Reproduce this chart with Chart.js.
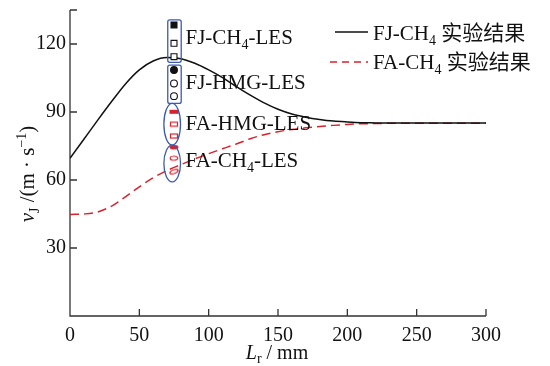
<!DOCTYPE html>
<html>
<head>
<meta charset="utf-8">
<script src="https://cdn.jsdelivr.net/npm/chart.js@4"></script>
<style>
  body { margin: 0; background: #fff; }
</style>
</head>
<body>
<canvas id="myChart" width="550" height="366"></canvas>
<script>
// Lr (mm) sampled every 10 mm
const lr = [0, 10, 20, 30, 40, 50, 60, 70, 80, 90, 100, 110, 120, 130, 140, 150,
            160, 170, 180, 190, 200, 210, 220, 230, 240, 250, 260, 270, 280, 290, 300];
// FJ-CH4 实验结果 (black solid)
const fjExp = [69.6, 78.0, 86.4, 94.6, 102.4, 108.6, 112.5, 114.0, 113.5, 111.5, 108.6,
               105.2, 101.2, 97.4, 94.0, 91.2, 89.1, 87.7, 86.7, 86.0, 85.6, 85.3,
               85.2, 85.1, 85.1, 85.1, 85.1, 85.1, 85.1, 85.1, 85.1];
// FA-CH4 实验结果 (red dashed)
const faExp = [44.8, 45.0, 45.9, 48.5, 52.6, 57.0, 61.0, 64.2, 66.8, 69.3, 71.6,
               73.8, 75.9, 78.2, 80.0, 81.3, 82.3, 83.0, 83.6, 84.1, 84.5, 84.8,
               84.9, 85.0, 85.0, 85.0, 85.0, 85.0, 85.0, 85.0, 85.0];

// LES results at Lr = 75 mm
const lesX = 75;
const fjCh4Les = [128.4, 120.3, 114.4];
const fjHmgLes = [108.5, 102.6, 97.0];
const faHmgLes = [90.1, 84.6, 79.4];
const faCh4Les = [74.5, 69.6, 63.7];

const lesNames = ['FJ-CH4-LES', 'FJ-HMG-LES', 'FA-HMG-LES', 'FA-CH4-LES'];
const lesNameY = [123.1, 103.4, 85.0, 68.8];
const lesNameX = 83.3;
// group outlines [xMin, xMax, yMin, yMax]
const rectGroups = [[70.5, 80.2, 111.9, 130.6], [70.5, 80.2, 93.8, 110.7]];
const ovalGroups = [[67.7, 79.7, 75.4, 93.8], [67.7, 79.7, 59.2, 75.4]];

const seriesNames = ['FJ-CH4 实验结果', 'FA-CH4 实验结果'];
const xTicks = [0, 50, 100, 150, 200, 250, 300];
const yTicks = [30, 60, 90, 120];
const yTop = 135;

const SERIF = '"Liberation Serif", "Noto Sans CJK SC", serif';
const INK = '#111';
const RED = '#d8222b';
const BLUE = '#3b5bb0';

// small canvases used as point styles
function shape(draw) {
  const c = document.createElement('canvas');
  c.width = 12; c.height = 8;
  const g = c.getContext('2d');
  g.translate(6, 4);
  draw(g);
  return c;
}
const redBarFull = shape(g => { g.fillStyle = RED; g.fillRect(-4.5, -2, 9, 4); });
const redBarOpen = shape(g => { g.fillStyle = '#fff'; g.strokeStyle = RED; g.lineWidth = 1.2;
  g.fillRect(-3.5, -2, 7, 4); g.strokeRect(-3.5, -2, 7, 4); });
const redOvalFull = shape(g => { g.fillStyle = RED; g.beginPath(); g.ellipse(0, 0, 4.5, 2.3, 0, 0, Math.PI * 2); g.fill(); });
const redOvalOpen = shape(g => { g.fillStyle = '#fff'; g.strokeStyle = RED; g.lineWidth = 1.2;
  g.beginPath(); g.ellipse(0, 0, 3.8, 2, 0, 0, Math.PI * 2); g.fill(); g.stroke(); });
const redOvalTilt = shape(g => { g.fillStyle = '#fff'; g.strokeStyle = RED; g.lineWidth = 1.3;
  g.beginPath(); g.ellipse(0, 0, 4.3, 1.9, -0.4, 0, Math.PI * 2); g.fill(); g.stroke(); });

// "CH4" -> subscript 4
function chemParts(s) {
  return s.split(/(\d)/).filter(t => t).map(t => /\d/.test(t) ? { t, sub: true } : { t });
}
function fontFor(p, size) {
  const s = (p.sub || p.sup) ? Math.round(size * 0.68) : size;
  return (p.italic ? 'italic ' : '') + s + 'px ' + SERIF;
}
function drawRich(ctx, parts, x, y, size, align) {
  let w = 0;
  parts.forEach(p => { ctx.font = fontFor(p, size); w += ctx.measureText(p.t).width; });
  let cx = align === 'center' ? x - w / 2 : x;
  ctx.textAlign = 'left';
  ctx.textBaseline = 'alphabetic';
  const base = y + size * 0.33;
  parts.forEach(p => {
    ctx.font = fontFor(p, size);
    const dy = p.sub ? size * 0.22 : p.sup ? -size * 0.38 : 0;
    ctx.fillText(p.t, cx, base + dy);
    cx += ctx.measureText(p.t).width;
  });
}

const decor = {
  id: 'decor',
  beforeDatasetsDraw(chart) {
    const { ctx, scales: { x, y } } = chart;
    const x0 = x.getPixelForValue(0), y0 = y.getPixelForValue(0);
    ctx.save();
    ctx.strokeStyle = '#333';
    ctx.lineWidth = 1.3;
    ctx.beginPath();
    ctx.moveTo(x0, y.getPixelForValue(yTop));
    ctx.lineTo(x0, y0);
    ctx.lineTo(x.getPixelForValue(300), y0);
    yTicks.concat([yTop]).forEach(v => {
      const py = y.getPixelForValue(v);
      ctx.moveTo(x0, py); ctx.lineTo(x0 + 7, py);
    });
    xTicks.slice(1).forEach(v => {
      const px = x.getPixelForValue(v);
      ctx.moveTo(px, y0); ctx.lineTo(px, y0 - 7);
    });
    ctx.stroke();
    ctx.restore();
  },
  afterDatasetsDraw(chart) {
    const { ctx, scales: { x, y } } = chart;
    ctx.save();
    ctx.strokeStyle = BLUE;
    ctx.lineWidth = 1.3;
    rectGroups.forEach(([a, b, c, d]) => {
      const l = x.getPixelForValue(a), r = x.getPixelForValue(b);
      const t = y.getPixelForValue(d), btm = y.getPixelForValue(c);
      ctx.beginPath();
      ctx.roundRect(l, t, r - l, btm - t, 2);
      ctx.stroke();
    });
    ovalGroups.forEach(([a, b, c, d]) => {
      const l = x.getPixelForValue(a), r = x.getPixelForValue(b);
      const t = y.getPixelForValue(d), btm = y.getPixelForValue(c);
      ctx.beginPath();
      ctx.ellipse((l + r) / 2, (t + btm) / 2, (r - l) / 2, (btm - t) / 2, 0, 0, Math.PI * 2);
      ctx.stroke();
    });

    ctx.fillStyle = INK;
    lesNames.forEach((n, i) => {
      drawRich(ctx, chemParts(n), x.getPixelForValue(lesNameX), y.getPixelForValue(lesNameY[i]), 21, 'left');
    });

    // legend
    ctx.lineWidth = 1.5;
    ctx.strokeStyle = INK;
    ctx.beginPath(); ctx.moveTo(335, 32); ctx.lineTo(368, 32); ctx.stroke();
    ctx.strokeStyle = RED;
    ctx.setLineDash([7, 5]);
    ctx.beginPath(); ctx.moveTo(330, 62); ctx.lineTo(368, 62); ctx.stroke();
    ctx.setLineDash([]);
    drawRich(ctx, chemParts(seriesNames[0]), 373, 33, 21, 'left');
    drawRich(ctx, chemParts(seriesNames[1]), 373, 62, 21, 'left');

    // axis titles
    drawRich(ctx, [{ t: 'L', italic: true }, { t: 'r', sub: true }, { t: ' / mm' }], 277, 352, 20, 'center');
    ctx.translate(27, 174);
    ctx.rotate(-Math.PI / 2);
    drawRich(ctx, [{ t: 'v', italic: true }, { t: 'J', sub: true }, { t: ' /(m · s' }, { t: '−1', sup: true }, { t: ')' }], 0, 0, 21, 'center');
    ctx.restore();
  }
};

const pts = ys => ys.map(v => ({ x: lesX, y: v }));
const linePts = ys => lr.map((v, i) => ({ x: v, y: ys[i] }));

new Chart(document.getElementById('myChart'), {
  type: 'line',
  data: {
    datasets: [
      { data: pts(fjCh4Les), showLine: false, order: 0, pointStyle: 'rect', pointRadius: 4.2,
        borderColor: INK, borderWidth: 1.1, backgroundColor: [INK, '#fff', '#fff'] },
      { data: pts(fjHmgLes), showLine: false, order: 0, pointStyle: 'circle', pointRadius: 3.4,
        borderColor: INK, borderWidth: 1.1, backgroundColor: [INK, '#fff', '#fff'] },
      { data: pts(faHmgLes), showLine: false, order: 0, pointRadius: 4,
        pointStyle: [redBarFull, redBarOpen, redBarOpen] },
      { data: pts(faCh4Les), showLine: false, order: 0, pointRadius: 4,
        pointStyle: [redOvalFull, redOvalOpen, redOvalTilt] },
      { data: linePts(fjExp), order: 1, borderColor: INK, borderWidth: 1.5, pointRadius: 0,
        cubicInterpolationMode: 'monotone', fill: false },
      { data: linePts(faExp), order: 1, borderColor: RED, borderWidth: 1.5, borderDash: [9, 5],
        pointRadius: 0, cubicInterpolationMode: 'monotone', fill: false }
    ]
  },
  options: {
    responsive: false,
    animation: false,
    layout: { padding: { top: 10, right: 64, left: 0, bottom: 0 } },
    plugins: { legend: { display: false }, tooltip: { enabled: false } },
    scales: {
      x: {
        type: 'linear', min: 0, max: 300,
        afterBuildTicks: s => { s.ticks = xTicks.map(v => ({ value: v })); },
        afterFit: s => { s.height = 50; s.paddingLeft = 0; s.paddingRight = 0; },
        grid: { display: false, drawTicks: false },
        border: { display: false },
        ticks: { color: INK, padding: 8, font: { family: SERIF, size: 20 } }
      },
      y: {
        min: 0, max: yTop,
        afterBuildTicks: s => { s.ticks = yTicks.map(v => ({ value: v })); },
        afterFit: s => { s.width = 70; s.paddingTop = 0; s.paddingBottom = 0; },
        grid: { display: false, drawTicks: false },
        border: { display: false },
        ticks: { color: INK, padding: 4, font: { family: SERIF, size: 20 } }
      }
    }
  },
  plugins: [decor]
});
</script>
</body>
</html>
